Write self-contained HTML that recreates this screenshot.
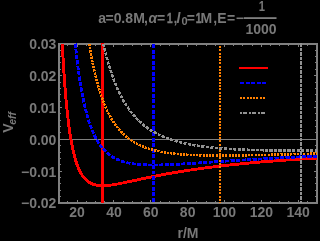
<!DOCTYPE html>
<html><head><meta charset="utf-8"><style>
html,body{margin:0;padding:0;background:#000;width:318px;height:241px;overflow:hidden}
svg{display:block;will-change:transform}
text{font-family:"Liberation Sans",sans-serif;font-size:14px;font-weight:bold;fill:#787878}
</style></head><body>
<svg width="318" height="241" viewBox="0 0 318 241">
<defs><clipPath id="cp"><rect x="58" y="43" width="260" height="160"/></clipPath></defs>
<rect width="318" height="241" fill="#000"/>
<text x="98.19" y="22.50">a</text>
<text x="105.62" y="22.50">=</text>
<text x="113.75" y="22.50">0</text>
<text x="121.15" y="22.50">.</text>
<text x="125.16" y="22.50">8</text>
<text x="133.16" y="22.50">M</text>
<text x="143.95" y="22.50">,</text>
<text x="148.41" y="22.50" font-style="italic">α</text>
<text x="156.92" y="22.50">=</text>
<text transform="translate(166.97,22.50) scale(0.72,1)" style="stroke:#787878;stroke-width:0.5">1</text>
<text x="173.55" y="22.50">,</text>
<text x="176.46" y="22.50" font-style="italic">l</text>
<text x="181.56" y="24.90" style="font-size:11px">0</text>
<text x="186.82" y="22.50">=</text>
<text transform="translate(195.87,22.50) scale(0.72,1)" style="stroke:#787878;stroke-width:0.5">1</text>
<text x="200.56" y="22.50">M</text>
<text x="213.35" y="22.50">,</text>
<text x="217.16" y="22.50">E</text>
<text x="226.92" y="22.50">=</text>
<text x="235.72" y="22.50">−</text>
<rect x="244" y="17.2" width="32.5" height="1.8" fill="#808080"/>
<text transform="translate(261.8,11.0) scale(0.8,1)" text-anchor="middle">1</text>
<text x="261" y="34.3" text-anchor="middle">1000</text>
<g fill="#808080" shape-rendering="crispEdges">
<rect x="58" y="43" width="260" height="2"/>
<rect x="58" y="202" width="260" height="2"/>
<rect x="58" y="43" width="2" height="161"/>
<rect x="316" y="43" width="2" height="161"/>
<rect x="58" y="201" width="1" height="1"/>
<rect x="58" y="45" width="1" height="1"/>
<rect x="67" y="201" width="1" height="1"/>
<rect x="67" y="45" width="1" height="1"/>
<rect x="77" y="200" width="1" height="2"/>
<rect x="77" y="45" width="1" height="2"/>
<rect x="86" y="201" width="1" height="1"/>
<rect x="86" y="45" width="1" height="1"/>
<rect x="95" y="201" width="1" height="1"/>
<rect x="95" y="45" width="1" height="1"/>
<rect x="104" y="201" width="1" height="1"/>
<rect x="104" y="45" width="1" height="1"/>
<rect x="113" y="200" width="1" height="2"/>
<rect x="113" y="45" width="1" height="2"/>
<rect x="123" y="201" width="1" height="1"/>
<rect x="123" y="45" width="1" height="1"/>
<rect x="132" y="201" width="1" height="1"/>
<rect x="132" y="45" width="1" height="1"/>
<rect x="141" y="201" width="1" height="1"/>
<rect x="141" y="45" width="1" height="1"/>
<rect x="150" y="200" width="1" height="2"/>
<rect x="150" y="45" width="1" height="2"/>
<rect x="160" y="201" width="1" height="1"/>
<rect x="160" y="45" width="1" height="1"/>
<rect x="169" y="201" width="1" height="1"/>
<rect x="169" y="45" width="1" height="1"/>
<rect x="178" y="201" width="1" height="1"/>
<rect x="178" y="45" width="1" height="1"/>
<rect x="187" y="200" width="1" height="2"/>
<rect x="187" y="45" width="1" height="2"/>
<rect x="196" y="201" width="1" height="1"/>
<rect x="196" y="45" width="1" height="1"/>
<rect x="206" y="201" width="1" height="1"/>
<rect x="206" y="45" width="1" height="1"/>
<rect x="215" y="201" width="1" height="1"/>
<rect x="215" y="45" width="1" height="1"/>
<rect x="224" y="200" width="1" height="2"/>
<rect x="224" y="45" width="1" height="2"/>
<rect x="233" y="201" width="1" height="1"/>
<rect x="233" y="45" width="1" height="1"/>
<rect x="242" y="201" width="1" height="1"/>
<rect x="242" y="45" width="1" height="1"/>
<rect x="252" y="201" width="1" height="1"/>
<rect x="252" y="45" width="1" height="1"/>
<rect x="261" y="200" width="1" height="2"/>
<rect x="261" y="45" width="1" height="2"/>
<rect x="270" y="201" width="1" height="1"/>
<rect x="270" y="45" width="1" height="1"/>
<rect x="279" y="201" width="1" height="1"/>
<rect x="279" y="45" width="1" height="1"/>
<rect x="288" y="201" width="1" height="1"/>
<rect x="288" y="45" width="1" height="1"/>
<rect x="298" y="200" width="1" height="2"/>
<rect x="298" y="45" width="1" height="2"/>
<rect x="307" y="201" width="1" height="1"/>
<rect x="307" y="45" width="1" height="1"/>
<rect x="316" y="201" width="1" height="1"/>
<rect x="316" y="45" width="1" height="1"/>
<rect x="60" y="202" width="2" height="1"/>
<rect x="314" y="202" width="2" height="1"/>
<rect x="60" y="196" width="1" height="1"/>
<rect x="315" y="196" width="1" height="1"/>
<rect x="60" y="190" width="1" height="1"/>
<rect x="315" y="190" width="1" height="1"/>
<rect x="60" y="183" width="1" height="1"/>
<rect x="315" y="183" width="1" height="1"/>
<rect x="60" y="177" width="1" height="1"/>
<rect x="315" y="177" width="1" height="1"/>
<rect x="60" y="171" width="2" height="1"/>
<rect x="314" y="171" width="2" height="1"/>
<rect x="60" y="164" width="1" height="1"/>
<rect x="315" y="164" width="1" height="1"/>
<rect x="60" y="158" width="1" height="1"/>
<rect x="315" y="158" width="1" height="1"/>
<rect x="60" y="152" width="1" height="1"/>
<rect x="315" y="152" width="1" height="1"/>
<rect x="60" y="145" width="1" height="1"/>
<rect x="315" y="145" width="1" height="1"/>
<rect x="60" y="139" width="2" height="1"/>
<rect x="314" y="139" width="2" height="1"/>
<rect x="60" y="132" width="1" height="1"/>
<rect x="315" y="132" width="1" height="1"/>
<rect x="60" y="126" width="1" height="1"/>
<rect x="315" y="126" width="1" height="1"/>
<rect x="60" y="120" width="1" height="1"/>
<rect x="315" y="120" width="1" height="1"/>
<rect x="60" y="113" width="1" height="1"/>
<rect x="315" y="113" width="1" height="1"/>
<rect x="60" y="107" width="2" height="1"/>
<rect x="314" y="107" width="2" height="1"/>
<rect x="60" y="101" width="1" height="1"/>
<rect x="315" y="101" width="1" height="1"/>
<rect x="60" y="94" width="1" height="1"/>
<rect x="315" y="94" width="1" height="1"/>
<rect x="60" y="88" width="1" height="1"/>
<rect x="315" y="88" width="1" height="1"/>
<rect x="60" y="82" width="1" height="1"/>
<rect x="315" y="82" width="1" height="1"/>
<rect x="60" y="75" width="2" height="1"/>
<rect x="314" y="75" width="2" height="1"/>
<rect x="60" y="69" width="1" height="1"/>
<rect x="315" y="69" width="1" height="1"/>
<rect x="60" y="62" width="1" height="1"/>
<rect x="315" y="62" width="1" height="1"/>
<rect x="60" y="56" width="1" height="1"/>
<rect x="315" y="56" width="1" height="1"/>
<rect x="60" y="50" width="1" height="1"/>
<rect x="315" y="50" width="1" height="1"/>
<rect x="60" y="43" width="2" height="1"/>
<rect x="314" y="43" width="2" height="1"/>
</g>
<rect x="60" y="139" width="256" height="1" fill="#808080" shape-rendering="crispEdges"/>
<path d="M62.26,43.80 L62.26,43.87 L62.27,44.04 L62.28,44.29 L62.30,44.62 L62.32,45.03 L62.35,45.50 L62.38,46.04 L62.41,46.64 L62.44,47.31 L62.48,48.03 L62.52,48.80 L62.57,49.63 L62.61,50.51 L62.67,51.44 L62.72,52.41 L62.78,53.43 L62.84,54.49 L62.90,55.59 L62.96,56.74 L63.03,57.92 L63.10,59.13 L63.18,60.38 L63.25,61.66 L63.33,62.97 L63.42,64.31 L63.50,65.67 L63.59,67.06 L63.68,68.47 L63.77,69.90 L63.87,71.36 L63.96,72.83 L64.06,74.32 L64.17,75.82 L64.27,77.34 L64.38,78.87 L64.49,80.41 L64.60,81.96 L64.72,83.52 L64.84,85.08 L64.96,86.65 L65.08,88.22 L65.20,89.80 L65.33,91.38 L65.46,92.96 L65.59,94.54 L65.73,96.12 L65.86,97.69 L66.00,99.26 L66.14,100.83 L66.29,102.39 L66.44,103.95 L66.58,105.49 L66.73,107.03 L66.89,108.57 L67.04,110.09 L67.20,111.60 L67.36,113.10 L67.52,114.59 L67.69,116.07 L67.85,117.53 L68.02,118.98 L68.19,120.42 L68.37,121.84 L68.54,123.25 L68.72,124.65 L68.90,126.03 L69.08,127.39 L69.27,128.73 L69.46,130.06 L69.64,131.38 L69.84,132.67 L70.03,133.95 L70.22,135.21 L70.42,136.46 L70.62,137.68 L70.82,138.89 L71.03,140.08 L71.23,141.25 L71.44,142.41 L71.65,143.54 L71.86,144.66 L72.08,145.76 L72.29,146.84 L72.51,147.90 L72.73,148.94 L72.96,149.96 L73.18,150.97 L73.41,151.96 L73.64,152.93 L73.87,153.88 L74.10,154.81 L74.34,155.72 L74.58,156.62 L74.81,157.50 L75.06,158.36 L75.30,159.20 L75.55,160.03 L75.79,160.84 L76.04,161.63 L76.29,162.40 L76.55,163.16 L76.80,163.90 L77.06,164.62 L77.32,165.33 L77.58,166.02 L77.85,166.70 L78.11,167.36 L78.38,168.00 L78.65,168.63 L78.92,169.24 L79.19,169.84 L79.47,170.43 L79.75,170.99 L80.03,171.55 L80.31,172.09 L80.59,172.61 L80.88,173.13 L81.17,173.62 L81.45,174.11 L81.75,174.58 L82.04,175.04 L82.33,175.49 L82.63,175.92 L82.93,176.34 L83.23,176.75 L83.53,177.15 L83.84,177.53 L84.15,177.90 L84.46,178.26 L84.77,178.62 L85.08,178.95 L85.39,179.28 L85.71,179.60 L86.03,179.91 L86.35,180.21 L86.67,180.49 L86.99,180.77 L87.32,181.04 L87.65,181.30 L87.98,181.55 L88.31,181.79 L88.64,182.02 L88.98,182.24 L89.32,182.45 L89.65,182.66 L90.00,182.86 L90.34,183.04 L90.68,183.23 L91.03,183.40 L91.38,183.56 L91.73,183.72 L92.08,183.87 L92.44,184.02 L92.79,184.15 L93.15,184.28 L93.51,184.41 L93.87,184.52 L94.23,184.63 L94.60,184.74 L94.97,184.83 L95.34,184.93 L95.71,185.01 L96.08,185.09 L96.45,185.17 L96.83,185.23 L97.21,185.30 L97.59,185.36 L97.97,185.41 L98.35,185.46 L98.74,185.50 L99.12,185.54 L99.51,185.57 L99.90,185.60 L100.30,185.63 L100.69,185.65 L101.09,185.67 L101.49,185.68 L101.89,185.69 L102.29,185.69 L102.69,185.69 L103.10,185.69 L103.50,185.68 L103.91,185.67 L104.32,185.66 L104.73,185.64 L105.15,185.62 L105.56,185.59 L105.98,185.57 L106.40,185.54 L106.82,185.50 L107.25,185.47 L107.67,185.43 L108.10,185.39 L108.53,185.34 L108.96,185.30 L109.39,185.25 L109.82,185.20 L110.26,185.14 L110.69,185.09 L111.13,185.03 L111.57,184.97 L112.02,184.90 L112.46,184.84 L112.91,184.77 L113.36,184.70 L113.80,184.63 L114.26,184.56 L114.71,184.48 L115.16,184.41 L115.62,184.33 L116.08,184.25 L116.54,184.17 L117.00,184.09 L117.46,184.00 L117.93,183.92 L118.40,183.83 L118.86,183.74 L119.33,183.65 L119.81,183.56 L120.28,183.47 L120.76,183.37 L121.23,183.28 L121.71,183.18 L122.19,183.09 L122.68,182.99 L123.16,182.89 L123.65,182.79 L124.13,182.69 L124.62,182.59 L125.11,182.48 L125.61,182.38 L126.10,182.28 L126.60,182.17 L127.10,182.07 L127.60,181.96 L128.10,181.85 L128.60,181.74 L129.10,181.64 L129.61,181.53 L130.12,181.42 L130.63,181.31 L131.14,181.20 L131.65,181.08 L132.17,180.97 L132.68,180.86 L133.20,180.75 L133.72,180.64 L134.24,180.52 L134.77,180.41 L135.29,180.29 L135.82,180.18 L136.35,180.07 L136.88,179.95 L137.41,179.84 L137.94,179.72 L138.48,179.60 L139.02,179.49 L139.55,179.37 L140.09,179.26 L140.64,179.14 L141.18,179.02 L141.72,178.91 L142.27,178.79 L142.82,178.67 L143.37,178.56 L143.92,178.44 L144.47,178.32 L145.03,178.20 L145.59,178.09 L146.14,177.97 L146.70,177.85 L147.27,177.74 L147.83,177.62 L148.39,177.50 L148.96,177.38 L149.53,177.27 L150.10,177.15 L150.67,177.03 L151.24,176.92 L151.82,176.80 L152.40,176.68 L152.97,176.57 L153.55,176.45 L154.14,176.33 L154.72,176.22 L155.30,176.10 L155.89,175.98 L156.48,175.87 L157.07,175.75 L157.66,175.64 L158.25,175.52 L158.85,175.41 L159.44,175.29 L160.04,175.18 L160.64,175.06 L161.24,174.95 L161.84,174.83 L162.45,174.72 L163.05,174.61 L163.66,174.49 L164.27,174.38 L164.88,174.27 L165.49,174.15 L166.11,174.04 L166.72,173.93 L167.34,173.82 L167.96,173.70 L168.58,173.59 L169.20,173.48 L169.83,173.37 L170.45,173.26 L171.08,173.15 L171.71,173.04 L172.34,172.93 L172.97,172.82 L173.60,172.71 L174.24,172.60 L174.88,172.49 L175.51,172.38 L176.15,172.28 L176.80,172.17 L177.44,172.06 L178.08,171.95 L178.73,171.85 L179.38,171.74 L180.03,171.63 L180.68,171.53 L181.33,171.42 L181.98,171.32 L182.64,171.21 L183.30,171.11 L183.96,171.00 L184.62,170.90 L185.28,170.80 L185.94,170.69 L186.61,170.59 L187.28,170.49 L187.94,170.39 L188.61,170.28 L189.29,170.18 L189.96,170.08 L190.63,169.98 L191.31,169.88 L191.99,169.78 L192.67,169.68 L193.35,169.58 L194.03,169.48 L194.72,169.38 L195.40,169.28 L196.09,169.18 L196.78,169.09 L197.47,168.99 L198.16,168.89 L198.86,168.80 L199.55,168.70 L200.25,168.60 L200.95,168.51 L201.65,168.41 L202.35,168.32 L203.05,168.22 L203.76,168.13 L204.46,168.03 L205.17,167.94 L205.88,167.85 L206.59,167.75 L207.30,167.66 L208.02,167.57 L208.73,167.48 L209.45,167.39 L210.17,167.29 L210.89,167.20 L211.61,167.11 L212.33,167.02 L213.06,166.93 L213.79,166.84 L214.51,166.75 L215.24,166.67 L215.98,166.58 L216.71,166.49 L217.44,166.40 L218.18,166.31 L218.92,166.23 L219.65,166.14 L220.40,166.05 L221.14,165.97 L221.88,165.88 L222.63,165.80 L223.37,165.71 L224.12,165.63 L224.87,165.54 L225.62,165.46 L226.37,165.37 L227.13,165.29 L227.89,165.21 L228.64,165.12 L229.40,165.04 L230.16,164.96 L230.92,164.88 L231.69,164.80 L232.45,164.72 L233.22,164.63 L233.99,164.55 L234.76,164.47 L235.53,164.39 L236.30,164.31 L237.08,164.24 L237.85,164.16 L238.63,164.08 L239.41,164.00 L240.19,163.92 L240.97,163.84 L241.75,163.77 L242.54,163.69 L243.32,163.61 L244.11,163.54 L244.90,163.46 L245.69,163.38 L246.49,163.31 L247.28,163.23 L248.08,163.16 L248.87,163.08 L249.67,163.01 L250.47,162.94 L251.27,162.86 L252.08,162.79 L252.88,162.72 L253.69,162.64 L254.49,162.57 L255.30,162.50 L256.11,162.43 L256.93,162.36 L257.74,162.28 L258.56,162.21 L259.37,162.14 L260.19,162.07 L261.01,162.00 L261.83,161.93 L262.66,161.86 L263.48,161.79 L264.31,161.72 L265.13,161.66 L265.96,161.59 L266.79,161.52 L267.62,161.45 L268.46,161.38 L269.29,161.32 L270.13,161.25 L270.97,161.18 L271.80,161.12 L272.65,161.05 L273.49,160.98 L274.33,160.92 L275.18,160.85 L276.02,160.79 L276.87,160.72 L277.72,160.66 L278.57,160.59 L279.43,160.53 L280.28,160.47 L281.14,160.40 L281.99,160.34 L282.85,160.28 L283.71,160.21 L284.57,160.15 L285.44,160.09 L286.30,160.03 L287.17,159.96 L288.04,159.90 L288.90,159.84 L289.78,159.78 L290.65,159.72 L291.52,159.66 L292.40,159.60 L293.27,159.54 L294.15,159.48 L295.03,159.42 L295.91,159.36 L296.79,159.30 L297.68,159.24 L298.56,159.18 L299.45,159.13 L300.34,159.07 L301.23,159.01 L302.12,158.95 L303.01,158.89 L303.91,158.84 L304.80,158.78 L305.70,158.72 L306.60,158.67 L307.50,158.61 L308.40,158.55 L309.30,158.50 L310.21,158.44 L311.11,158.39 L312.02,158.33 L312.93,158.28 L313.84,158.22 L314.75,158.17 L315.67,158.11 L316.58,158.06" fill="none" stroke="#ff0000" stroke-width="2.9"  clip-path="url(#cp)" shape-rendering="crispEdges"/>
<line x1="102.5" y1="43" x2="102.5" y2="203" stroke="#ff0000" stroke-width="3"  shape-rendering="crispEdges"/>
<path d="M75.30,43.80 L75.31,43.83 L75.32,43.91 L75.33,44.04 L75.35,44.20 L75.37,44.39 L75.39,44.62 L75.42,44.88 L75.45,45.18 L75.48,45.50 L75.52,45.85 L75.56,46.23 L75.60,46.64 L75.64,47.07 L75.69,47.53 L75.74,48.01 L75.80,48.52 L75.85,49.05 L75.91,49.60 L75.97,50.17 L76.04,50.77 L76.11,51.38 L76.18,52.02 L76.25,52.67 L76.33,53.35 L76.40,54.04 L76.48,54.75 L76.57,55.47 L76.65,56.21 L76.74,56.97 L76.83,57.74 L76.92,58.52 L77.02,59.32 L77.11,60.13 L77.21,60.96 L77.32,61.79 L77.42,62.64 L77.53,63.50 L77.64,64.36 L77.75,65.24 L77.86,66.13 L77.98,67.02 L78.10,67.92 L78.22,68.83 L78.34,69.75 L78.47,70.67 L78.60,71.60 L78.73,72.54 L78.86,73.48 L78.99,74.42 L79.13,75.37 L79.27,76.32 L79.41,77.28 L79.55,78.24 L79.70,79.20 L79.84,80.16 L79.99,81.12 L80.15,82.09 L80.30,83.05 L80.46,84.02 L80.61,84.98 L80.77,85.95 L80.94,86.91 L81.10,87.88 L81.27,88.84 L81.44,89.80 L81.61,90.76 L81.78,91.71 L81.96,92.67 L82.13,93.62 L82.31,94.57 L82.49,95.51 L82.68,96.45 L82.86,97.39 L83.05,98.32 L83.24,99.25 L83.43,100.17 L83.62,101.09 L83.82,102.00 L84.02,102.91 L84.22,103.81 L84.42,104.71 L84.62,105.60 L84.83,106.48 L85.03,107.36 L85.24,108.23 L85.45,109.10 L85.67,109.96 L85.88,110.81 L86.10,111.66 L86.32,112.50 L86.54,113.33 L86.76,114.15 L86.99,114.97 L87.22,115.78 L87.45,116.58 L87.68,117.38 L87.91,118.17 L88.15,118.95 L88.38,119.72 L88.62,120.48 L88.86,121.24 L89.10,121.99 L89.35,122.73 L89.59,123.47 L89.84,124.19 L90.09,124.91 L90.35,125.62 L90.60,126.32 L90.85,127.01 L91.11,127.70 L91.37,128.37 L91.63,129.04 L91.90,129.70 L92.16,130.36 L92.43,131.00 L92.70,131.64 L92.97,132.27 L93.24,132.89 L93.52,133.50 L93.79,134.11 L94.07,134.70 L94.35,135.29 L94.63,135.87 L94.92,136.45 L95.20,137.01 L95.49,137.57 L95.78,138.12 L96.07,138.66 L96.36,139.19 L96.66,139.72 L96.95,140.24 L97.25,140.75 L97.55,141.26 L97.86,141.75 L98.16,142.24 L98.46,142.72 L98.77,143.20 L99.08,143.67 L99.39,144.13 L99.71,144.58 L100.02,145.03 L100.34,145.47 L100.65,145.90 L100.97,146.32 L101.30,146.74 L101.62,147.15 L101.95,147.56 L102.27,147.96 L102.60,148.35 L102.93,148.73 L103.26,149.11 L103.60,149.49 L103.93,149.85 L104.27,150.21 L104.61,150.57 L104.95,150.91 L105.30,151.26 L105.64,151.59 L105.99,151.92 L106.33,152.25 L106.68,152.56 L107.04,152.88 L107.39,153.18 L107.75,153.48 L108.10,153.78 L108.46,154.07 L108.82,154.36 L109.18,154.64 L109.55,154.91 L109.91,155.18 L110.28,155.44 L110.65,155.70 L111.02,155.96 L111.39,156.20 L111.77,156.45 L112.14,156.69 L112.52,156.92 L112.90,157.15 L113.28,157.38 L113.66,157.60 L114.05,157.81 L114.43,158.03 L114.82,158.23 L115.21,158.44 L115.60,158.64 L116.00,158.83 L116.39,159.02 L116.79,159.21 L117.18,159.39 L117.58,159.57 L117.99,159.74 L118.39,159.91 L118.79,160.08 L119.20,160.24 L119.61,160.40 L120.02,160.56 L120.43,160.71 L120.84,160.86 L121.26,161.00 L121.67,161.14 L122.09,161.28 L122.51,161.41 L122.93,161.55 L123.36,161.67 L123.78,161.80 L124.21,161.92 L124.64,162.04 L125.06,162.16 L125.50,162.27 L125.93,162.38 L126.36,162.48 L126.80,162.59 L127.24,162.69 L127.68,162.79 L128.12,162.88 L128.56,162.98 L129.01,163.07 L129.45,163.15 L129.90,163.24 L130.35,163.32 L130.80,163.40 L131.26,163.48 L131.71,163.55 L132.17,163.63 L132.62,163.70 L133.08,163.77 L133.54,163.83 L134.01,163.90 L134.47,163.96 L134.94,164.02 L135.40,164.07 L135.87,164.13 L136.34,164.18 L136.82,164.23 L137.29,164.28 L137.77,164.33 L138.24,164.37 L138.72,164.42 L139.20,164.46 L139.68,164.50 L140.17,164.54 L140.65,164.57 L141.14,164.61 L141.63,164.64 L142.12,164.67 L142.61,164.70 L143.10,164.73 L143.60,164.76 L144.09,164.78 L144.59,164.80 L145.09,164.83 L145.59,164.85 L146.10,164.86 L146.60,164.88 L147.11,164.90 L147.61,164.91 L148.12,164.93 L148.63,164.94 L149.15,164.95 L149.66,164.96 L150.18,164.97 L150.69,164.97 L151.21,164.98 L151.73,164.98 L152.25,164.99 L152.78,164.99 L153.30,164.99 L153.83,164.99 L154.36,164.99 L154.89,164.99 L155.42,164.98 L155.95,164.98 L156.49,164.97 L157.02,164.97 L157.56,164.96 L158.10,164.95 L158.64,164.94 L159.18,164.93 L159.73,164.92 L160.27,164.91 L160.82,164.90 L161.37,164.89 L161.92,164.87 L162.47,164.86 L163.02,164.84 L163.58,164.82 L164.13,164.81 L164.69,164.79 L165.25,164.77 L165.81,164.75 L166.37,164.73 L166.94,164.71 L167.50,164.69 L168.07,164.66 L168.64,164.64 L169.21,164.62 L169.78,164.59 L170.36,164.57 L170.93,164.54 L171.51,164.52 L172.08,164.49 L172.66,164.46 L173.25,164.44 L173.83,164.41 L174.41,164.38 L175.00,164.35 L175.59,164.32 L176.17,164.29 L176.76,164.26 L177.36,164.23 L177.95,164.20 L178.54,164.16 L179.14,164.13 L179.74,164.10 L180.34,164.07 L180.94,164.03 L181.54,164.00 L182.15,163.96 L182.75,163.93 L183.36,163.89 L183.97,163.86 L184.58,163.82 L185.19,163.78 L185.80,163.75 L186.42,163.71 L187.03,163.67 L187.65,163.63 L188.27,163.60 L188.89,163.56 L189.51,163.52 L190.14,163.48 L190.76,163.44 L191.39,163.40 L192.02,163.36 L192.65,163.32 L193.28,163.28 L193.91,163.24 L194.54,163.20 L195.18,163.16 L195.82,163.12 L196.46,163.08 L197.10,163.04 L197.74,162.99 L198.38,162.95 L199.03,162.91 L199.67,162.87 L200.32,162.83 L200.97,162.78 L201.62,162.74 L202.27,162.70 L202.93,162.65 L203.58,162.61 L204.24,162.57 L204.90,162.52 L205.55,162.48 L206.22,162.44 L206.88,162.39 L207.54,162.35 L208.21,162.30 L208.88,162.26 L209.54,162.21 L210.21,162.17 L210.89,162.12 L211.56,162.08 L212.23,162.04 L212.91,161.99 L213.59,161.95 L214.27,161.90 L214.95,161.85 L215.63,161.81 L216.31,161.76 L217.00,161.72 L217.68,161.67 L218.37,161.63 L219.06,161.58 L219.75,161.54 L220.44,161.49 L221.14,161.44 L221.83,161.40 L222.53,161.35 L223.23,161.31 L223.93,161.26 L224.63,161.22 L225.33,161.17 L226.03,161.12 L226.74,161.08 L227.45,161.03 L228.15,160.99 L228.86,160.94 L229.58,160.89 L230.29,160.85 L231.00,160.80 L231.72,160.75 L232.44,160.71 L233.15,160.66 L233.87,160.62 L234.60,160.57 L235.32,160.52 L236.04,160.48 L236.77,160.43 L237.50,160.39 L238.22,160.34 L238.95,160.29 L239.69,160.25 L240.42,160.20 L241.15,160.16 L241.89,160.11 L242.63,160.06 L243.37,160.02 L244.11,159.97 L244.85,159.93 L245.59,159.88 L246.34,159.83 L247.08,159.79 L247.83,159.74 L248.58,159.70 L249.33,159.65 L250.08,159.61 L250.84,159.56 L251.59,159.52 L252.35,159.47 L253.10,159.43 L253.86,159.38 L254.62,159.33 L255.39,159.29 L256.15,159.24 L256.91,159.20 L257.68,159.15 L258.45,159.11 L259.22,159.06 L259.99,159.02 L260.76,158.97 L261.53,158.93 L262.31,158.89 L263.08,158.84 L263.86,158.80 L264.64,158.75 L265.42,158.71 L266.20,158.66 L266.99,158.62 L267.77,158.57 L268.56,158.53 L269.35,158.49 L270.13,158.44 L270.93,158.40 L271.72,158.35 L272.51,158.31 L273.31,158.27 L274.10,158.22 L274.90,158.18 L275.70,158.14 L276.50,158.09 L277.30,158.05 L278.10,158.01 L278.91,157.96 L279.72,157.92 L280.52,157.88 L281.33,157.84 L282.14,157.79 L282.95,157.75 L283.77,157.71 L284.58,157.66 L285.40,157.62 L286.22,157.58 L287.03,157.54 L287.85,157.50 L288.68,157.45 L289.50,157.41 L290.32,157.37 L291.15,157.33 L291.98,157.29 L292.81,157.24 L293.64,157.20 L294.47,157.16 L295.30,157.12 L296.14,157.08 L296.97,157.04 L297.81,157.00 L298.65,156.96 L299.49,156.91 L300.33,156.87 L301.17,156.83 L302.02,156.79 L302.86,156.75 L303.71,156.71 L304.56,156.67 L305.41,156.63 L306.26,156.59 L307.11,156.55 L307.96,156.51 L308.82,156.47 L309.68,156.43 L310.53,156.39 L311.39,156.35 L312.25,156.31 L313.12,156.27 L313.98,156.23 L314.85,156.19 L315.71,156.16 L316.58,156.12" fill="none" stroke="#0000ff" stroke-width="2.8" stroke-dasharray="4.2 1.3" clip-path="url(#cp)" shape-rendering="crispEdges"/>
<line x1="153.5" y1="44" x2="153.5" y2="203" stroke="#0000ff" stroke-width="3" stroke-dasharray="4 1.5" shape-rendering="crispEdges"/>
<path d="M89.18,43.80 L89.19,43.82 L89.19,43.87 L89.21,43.94 L89.22,44.04 L89.24,44.15 L89.26,44.29 L89.29,44.45 L89.32,44.62 L89.35,44.81 L89.38,45.02 L89.42,45.25 L89.46,45.49 L89.50,45.75 L89.55,46.03 L89.60,46.32 L89.65,46.62 L89.70,46.94 L89.76,47.28 L89.82,47.62 L89.88,47.99 L89.94,48.36 L90.01,48.75 L90.07,49.15 L90.15,49.56 L90.22,49.98 L90.29,50.42 L90.37,50.87 L90.45,51.33 L90.54,51.79 L90.62,52.27 L90.71,52.76 L90.80,53.26 L90.89,53.77 L90.98,54.29 L91.08,54.82 L91.18,55.35 L91.28,55.90 L91.38,56.45 L91.49,57.01 L91.60,57.58 L91.71,58.16 L91.82,58.74 L91.93,59.33 L92.05,59.92 L92.16,60.53 L92.29,61.14 L92.41,61.75 L92.53,62.37 L92.66,63.00 L92.79,63.63 L92.92,64.26 L93.05,64.90 L93.19,65.55 L93.32,66.20 L93.46,66.85 L93.60,67.51 L93.75,68.17 L93.89,68.83 L94.04,69.50 L94.19,70.16 L94.34,70.84 L94.49,71.51 L94.65,72.19 L94.80,72.87 L94.96,73.55 L95.12,74.23 L95.29,74.91 L95.45,75.60 L95.62,76.28 L95.79,76.97 L95.96,77.66 L96.13,78.34 L96.31,79.03 L96.48,79.72 L96.66,80.41 L96.84,81.10 L97.02,81.79 L97.21,82.47 L97.39,83.16 L97.58,83.85 L97.77,84.53 L97.96,85.22 L98.16,85.90 L98.35,86.58 L98.55,87.27 L98.75,87.94 L98.95,88.62 L99.15,89.30 L99.36,89.97 L99.57,90.64 L99.77,91.31 L99.98,91.98 L100.20,92.65 L100.41,93.31 L100.63,93.97 L100.84,94.63 L101.06,95.28 L101.29,95.93 L101.51,96.58 L101.73,97.23 L101.96,97.87 L102.19,98.51 L102.42,99.15 L102.65,99.78 L102.89,100.41 L103.12,101.04 L103.36,101.66 L103.60,102.28 L103.84,102.90 L104.08,103.51 L104.33,104.12 L104.57,104.72 L104.82,105.32 L105.07,105.92 L105.32,106.51 L105.58,107.10 L105.83,107.69 L106.09,108.27 L106.35,108.85 L106.61,109.42 L106.87,109.99 L107.13,110.55 L107.40,111.11 L107.67,111.67 L107.94,112.22 L108.21,112.77 L108.48,113.31 L108.75,113.85 L109.03,114.38 L109.31,114.91 L109.59,115.44 L109.87,115.96 L110.15,116.48 L110.44,116.99 L110.72,117.50 L111.01,118.00 L111.30,118.50 L111.59,119.00 L111.89,119.49 L112.18,119.97 L112.48,120.45 L112.78,120.93 L113.08,121.40 L113.38,121.87 L113.68,122.34 L113.98,122.79 L114.29,123.25 L114.60,123.70 L114.91,124.15 L115.22,124.59 L115.53,125.02 L115.85,125.46 L116.17,125.89 L116.48,126.31 L116.80,126.73 L117.13,127.15 L117.45,127.56 L117.77,127.96 L118.10,128.37 L118.43,128.76 L118.76,129.16 L119.09,129.55 L119.42,129.93 L119.76,130.31 L120.09,130.69 L120.43,131.07 L120.77,131.43 L121.11,131.80 L121.46,132.16 L121.80,132.52 L122.15,132.87 L122.49,133.22 L122.84,133.56 L123.20,133.90 L123.55,134.24 L123.90,134.57 L124.26,134.90 L124.62,135.23 L124.97,135.55 L125.34,135.87 L125.70,136.18 L126.06,136.49 L126.43,136.80 L126.79,137.10 L127.16,137.40 L127.53,137.69 L127.91,137.98 L128.28,138.27 L128.65,138.56 L129.03,138.84 L129.41,139.12 L129.79,139.39 L130.17,139.66 L130.55,139.93 L130.94,140.19 L131.32,140.45 L131.71,140.71 L132.10,140.96 L132.49,141.21 L132.88,141.46 L133.28,141.70 L133.67,141.94 L134.07,142.18 L134.47,142.42 L134.87,142.65 L135.27,142.88 L135.68,143.10 L136.08,143.32 L136.49,143.54 L136.90,143.76 L137.31,143.97 L137.72,144.18 L138.13,144.39 L138.54,144.59 L138.96,144.80 L139.38,144.99 L139.80,145.19 L140.22,145.38 L140.64,145.58 L141.06,145.76 L141.49,145.95 L141.92,146.13 L142.34,146.31 L142.77,146.49 L143.21,146.66 L143.64,146.84 L144.07,147.01 L144.51,147.17 L144.95,147.34 L145.39,147.50 L145.83,147.66 L146.27,147.82 L146.71,147.98 L147.16,148.13 L147.60,148.28 L148.05,148.43 L148.50,148.58 L148.95,148.72 L149.41,148.86 L149.86,149.00 L150.32,149.14 L150.77,149.27 L151.23,149.41 L151.69,149.54 L152.15,149.67 L152.62,149.80 L153.08,149.92 L153.55,150.04 L154.02,150.17 L154.49,150.29 L154.96,150.40 L155.43,150.52 L155.90,150.63 L156.38,150.74 L156.86,150.85 L157.33,150.96 L157.81,151.07 L158.30,151.17 L158.78,151.28 L159.26,151.38 L159.75,151.48 L160.24,151.57 L160.73,151.67 L161.22,151.76 L161.71,151.86 L162.20,151.95 L162.70,152.04 L163.19,152.13 L163.69,152.21 L164.19,152.30 L164.69,152.38 L165.19,152.46 L165.70,152.54 L166.20,152.62 L166.71,152.70 L167.22,152.78 L167.73,152.85 L168.24,152.92 L168.75,153.00 L169.26,153.07 L169.78,153.14 L170.30,153.20 L170.81,153.27 L171.33,153.34 L171.86,153.40 L172.38,153.46 L172.90,153.52 L173.43,153.58 L173.96,153.64 L174.48,153.70 L175.01,153.76 L175.55,153.81 L176.08,153.87 L176.61,153.92 L177.15,153.97 L177.69,154.02 L178.23,154.07 L178.77,154.12 L179.31,154.17 L179.85,154.22 L180.40,154.26 L180.94,154.31 L181.49,154.35 L182.04,154.39 L182.59,154.44 L183.14,154.48 L183.70,154.52 L184.25,154.56 L184.81,154.59 L185.36,154.63 L185.92,154.67 L186.48,154.70 L187.05,154.74 L187.61,154.77 L188.17,154.80 L188.74,154.83 L189.31,154.86 L189.88,154.89 L190.45,154.92 L191.02,154.95 L191.59,154.98 L192.17,155.01 L192.75,155.03 L193.32,155.06 L193.90,155.08 L194.48,155.11 L195.07,155.13 L195.65,155.15 L196.23,155.17 L196.82,155.19 L197.41,155.21 L198.00,155.23 L198.59,155.25 L199.18,155.27 L199.77,155.29 L200.37,155.30 L200.97,155.32 L201.56,155.34 L202.16,155.35 L202.76,155.36 L203.37,155.38 L203.97,155.39 L204.57,155.40 L205.18,155.42 L205.79,155.43 L206.40,155.44 L207.01,155.45 L207.62,155.46 L208.23,155.47 L208.85,155.48 L209.46,155.48 L210.08,155.49 L210.70,155.50 L211.32,155.50 L211.94,155.51 L212.56,155.52 L213.19,155.52 L213.81,155.53 L214.44,155.53 L215.07,155.53 L215.70,155.54 L216.33,155.54 L216.97,155.54 L217.60,155.54 L218.24,155.54 L218.87,155.55 L219.51,155.55 L220.15,155.55 L220.79,155.55 L221.44,155.55 L222.08,155.54 L222.72,155.54 L223.37,155.54 L224.02,155.54 L224.67,155.54 L225.32,155.53 L225.97,155.53 L226.63,155.53 L227.28,155.52 L227.94,155.52 L228.60,155.51 L229.26,155.51 L229.92,155.50 L230.58,155.50 L231.24,155.49 L231.91,155.49 L232.57,155.48 L233.24,155.47 L233.91,155.46 L234.58,155.46 L235.25,155.45 L235.92,155.44 L236.60,155.43 L237.28,155.42 L237.95,155.41 L238.63,155.41 L239.31,155.40 L239.99,155.39 L240.68,155.38 L241.36,155.37 L242.04,155.36 L242.73,155.34 L243.42,155.33 L244.11,155.32 L244.80,155.31 L245.49,155.30 L246.19,155.29 L246.88,155.28 L247.58,155.26 L248.28,155.25 L248.97,155.24 L249.68,155.22 L250.38,155.21 L251.08,155.20 L251.78,155.18 L252.49,155.17 L253.20,155.16 L253.91,155.14 L254.62,155.13 L255.33,155.11 L256.04,155.10 L256.76,155.08 L257.47,155.07 L258.19,155.05 L258.91,155.04 L259.62,155.02 L260.35,155.01 L261.07,154.99 L261.79,154.98 L262.52,154.96 L263.24,154.94 L263.97,154.93 L264.70,154.91 L265.43,154.89 L266.16,154.88 L266.89,154.86 L267.63,154.84 L268.36,154.82 L269.10,154.81 L269.84,154.79 L270.58,154.77 L271.32,154.75 L272.06,154.74 L272.81,154.72 L273.55,154.70 L274.30,154.68 L275.05,154.66 L275.79,154.65 L276.55,154.63 L277.30,154.61 L278.05,154.59 L278.80,154.57 L279.56,154.55 L280.32,154.53 L281.08,154.51 L281.84,154.49 L282.60,154.47 L283.36,154.45 L284.12,154.44 L284.89,154.42 L285.65,154.40 L286.42,154.38 L287.19,154.36 L287.96,154.34 L288.73,154.32 L289.51,154.30 L290.28,154.28 L291.06,154.26 L291.83,154.24 L292.61,154.22 L293.39,154.19 L294.17,154.17 L294.96,154.15 L295.74,154.13 L296.53,154.11 L297.31,154.09 L298.10,154.07 L298.89,154.05 L299.68,154.03 L300.47,154.01 L301.26,153.99 L302.06,153.97 L302.85,153.94 L303.65,153.92 L304.45,153.90 L305.25,153.88 L306.05,153.86 L306.85,153.84 L307.65,153.82 L308.46,153.80 L309.27,153.77 L310.07,153.75 L310.88,153.73 L311.69,153.71 L312.50,153.69 L313.32,153.67 L314.13,153.65 L314.95,153.62 L315.76,153.60 L316.58,153.58" fill="none" stroke="#ff8000" stroke-width="2.5" stroke-dasharray="2.2 1.05" clip-path="url(#cp)" shape-rendering="crispEdges"/>
<line x1="220.0" y1="46" x2="220.0" y2="203" stroke="#ff8000" stroke-width="2" stroke-dasharray="2.2 1.05" shape-rendering="crispEdges"/>
<path d="M103.36,43.80 L103.36,43.81 L103.37,43.85 L103.38,43.89 L103.39,43.96 L103.41,44.04 L103.43,44.13 L103.45,44.23 L103.48,44.35 L103.51,44.48 L103.54,44.62 L103.58,44.77 L103.61,44.94 L103.65,45.11 L103.70,45.29 L103.74,45.49 L103.79,45.70 L103.84,45.91 L103.89,46.14 L103.95,46.37 L104.00,46.62 L104.06,46.87 L104.13,47.14 L104.19,47.41 L104.26,47.69 L104.33,47.98 L104.40,48.27 L104.47,48.58 L104.55,48.89 L104.62,49.22 L104.70,49.54 L104.78,49.88 L104.87,50.22 L104.95,50.58 L105.04,50.93 L105.13,51.30 L105.23,51.67 L105.32,52.05 L105.42,52.43 L105.52,52.83 L105.62,53.22 L105.72,53.63 L105.82,54.03 L105.93,54.45 L106.04,54.87 L106.15,55.29 L106.26,55.72 L106.38,56.16 L106.50,56.60 L106.61,57.05 L106.73,57.50 L106.86,57.95 L106.98,58.41 L107.11,58.87 L107.24,59.34 L107.37,59.81 L107.50,60.29 L107.63,60.76 L107.77,61.25 L107.91,61.73 L108.05,62.22 L108.19,62.71 L108.33,63.21 L108.48,63.71 L108.63,64.21 L108.77,64.71 L108.93,65.22 L109.08,65.73 L109.23,66.24 L109.39,66.75 L109.55,67.26 L109.71,67.78 L109.87,68.30 L110.03,68.82 L110.20,69.34 L110.37,69.87 L110.54,70.39 L110.71,70.92 L110.88,71.45 L111.05,71.98 L111.23,72.51 L111.41,73.04 L111.59,73.57 L111.77,74.10 L111.95,74.63 L112.14,75.17 L112.33,75.70 L112.51,76.23 L112.70,76.77 L112.90,77.30 L113.09,77.84 L113.29,78.37 L113.48,78.90 L113.68,79.44 L113.88,79.97 L114.09,80.51 L114.29,81.04 L114.50,81.57 L114.70,82.10 L114.91,82.63 L115.12,83.16 L115.34,83.69 L115.55,84.22 L115.77,84.75 L115.98,85.28 L116.20,85.80 L116.42,86.33 L116.65,86.85 L116.87,87.37 L117.10,87.89 L117.33,88.41 L117.55,88.93 L117.79,89.45 L118.02,89.96 L118.25,90.48 L118.49,90.99 L118.73,91.50 L118.97,92.01 L119.21,92.51 L119.45,93.02 L119.69,93.52 L119.94,94.02 L120.19,94.52 L120.44,95.02 L120.69,95.51 L120.94,96.00 L121.19,96.50 L121.45,96.98 L121.71,97.47 L121.97,97.95 L122.23,98.44 L122.49,98.92 L122.75,99.39 L123.02,99.87 L123.28,100.34 L123.55,100.81 L123.82,101.28 L124.09,101.74 L124.37,102.21 L124.64,102.67 L124.92,103.12 L125.20,103.58 L125.48,104.03 L125.76,104.48 L126.04,104.93 L126.32,105.37 L126.61,105.82 L126.90,106.25 L127.19,106.69 L127.48,107.13 L127.77,107.56 L128.06,107.99 L128.36,108.41 L128.66,108.84 L128.95,109.26 L129.25,109.67 L129.56,110.09 L129.86,110.50 L130.16,110.91 L130.47,111.32 L130.78,111.72 L131.09,112.12 L131.40,112.52 L131.71,112.92 L132.02,113.31 L132.34,113.70 L132.66,114.09 L132.97,114.47 L133.29,114.85 L133.62,115.23 L133.94,115.61 L134.26,115.98 L134.59,116.35 L134.92,116.72 L135.25,117.08 L135.58,117.44 L135.91,117.80 L136.24,118.16 L136.58,118.51 L136.92,118.86 L137.25,119.21 L137.59,119.56 L137.93,119.90 L138.28,120.24 L138.62,120.58 L138.97,120.91 L139.31,121.24 L139.66,121.57 L140.01,121.90 L140.37,122.22 L140.72,122.54 L141.07,122.86 L141.43,123.17 L141.79,123.48 L142.15,123.79 L142.51,124.10 L142.87,124.41 L143.23,124.71 L143.60,125.01 L143.96,125.30 L144.33,125.60 L144.70,125.89 L145.07,126.18 L145.45,126.46 L145.82,126.75 L146.20,127.03 L146.57,127.31 L146.95,127.58 L147.33,127.86 L147.71,128.13 L148.09,128.39 L148.48,128.66 L148.86,128.92 L149.25,129.19 L149.64,129.44 L150.03,129.70 L150.42,129.95 L150.81,130.20 L151.21,130.45 L151.60,130.70 L152.00,130.94 L152.40,131.19 L152.80,131.43 L153.20,131.66 L153.61,131.90 L154.01,132.13 L154.42,132.36 L154.82,132.59 L155.23,132.82 L155.64,133.04 L156.05,133.26 L156.47,133.48 L156.88,133.70 L157.30,133.91 L157.72,134.12 L158.13,134.34 L158.55,134.54 L158.98,134.75 L159.40,134.95 L159.82,135.16 L160.25,135.36 L160.68,135.56 L161.11,135.75 L161.54,135.95 L161.97,136.14 L162.40,136.33 L162.84,136.52 L163.27,136.70 L163.71,136.89 L164.15,137.07 L164.59,137.25 L165.03,137.43 L165.47,137.60 L165.92,137.78 L166.36,137.95 L166.81,138.12 L167.26,138.29 L167.71,138.46 L168.16,138.62 L168.61,138.79 L169.07,138.95 L169.52,139.11 L169.98,139.27 L170.44,139.43 L170.90,139.58 L171.36,139.73 L171.82,139.89 L172.29,140.04 L172.75,140.18 L173.22,140.33 L173.69,140.48 L174.16,140.62 L174.63,140.76 L175.10,140.90 L175.57,141.04 L176.05,141.18 L176.52,141.31 L177.00,141.45 L177.48,141.58 L177.96,141.71 L178.44,141.84 L178.93,141.97 L179.41,142.09 L179.90,142.22 L180.39,142.34 L180.87,142.47 L181.37,142.59 L181.86,142.71 L182.35,142.82 L182.84,142.94 L183.34,143.06 L183.84,143.17 L184.34,143.28 L184.84,143.39 L185.34,143.50 L185.84,143.61 L186.34,143.72 L186.85,143.83 L187.36,143.93 L187.86,144.03 L188.37,144.14 L188.88,144.24 L189.40,144.34 L189.91,144.44 L190.42,144.53 L190.94,144.63 L191.46,144.73 L191.98,144.82 L192.50,144.91 L193.02,145.00 L193.54,145.09 L194.07,145.18 L194.59,145.27 L195.12,145.36 L195.65,145.45 L196.18,145.53 L196.71,145.61 L197.24,145.70 L197.77,145.78 L198.31,145.86 L198.85,145.94 L199.38,146.02 L199.92,146.10 L200.46,146.17 L201.01,146.25 L201.55,146.32 L202.09,146.40 L202.64,146.47 L203.19,146.54 L203.73,146.61 L204.28,146.68 L204.84,146.75 L205.39,146.82 L205.94,146.89 L206.50,146.95 L207.05,147.02 L207.61,147.08 L208.17,147.15 L208.73,147.21 L209.29,147.27 L209.86,147.33 L210.42,147.39 L210.99,147.45 L211.55,147.51 L212.12,147.57 L212.69,147.63 L213.26,147.68 L213.84,147.74 L214.41,147.79 L214.98,147.85 L215.56,147.90 L216.14,147.95 L216.72,148.00 L217.30,148.06 L217.88,148.11 L218.46,148.15 L219.05,148.20 L219.63,148.25 L220.22,148.30 L220.81,148.35 L221.40,148.39 L221.99,148.44 L222.58,148.48 L223.17,148.53 L223.77,148.57 L224.36,148.61 L224.96,148.65 L225.56,148.69 L226.16,148.74 L226.76,148.78 L227.36,148.81 L227.97,148.85 L228.57,148.89 L229.18,148.93 L229.79,148.97 L230.40,149.00 L231.01,149.04 L231.62,149.07 L232.23,149.11 L232.85,149.14 L233.46,149.18 L234.08,149.21 L234.70,149.24 L235.32,149.27 L235.94,149.31 L236.56,149.34 L237.18,149.37 L237.81,149.40 L238.43,149.43 L239.06,149.46 L239.69,149.48 L240.32,149.51 L240.95,149.54 L241.58,149.57 L242.22,149.59 L242.85,149.62 L243.49,149.64 L244.13,149.67 L244.77,149.69 L245.41,149.72 L246.05,149.74 L246.69,149.76 L247.33,149.79 L247.98,149.81 L248.63,149.83 L249.27,149.85 L249.92,149.87 L250.57,149.89 L251.23,149.91 L251.88,149.93 L252.53,149.95 L253.19,149.97 L253.84,149.99 L254.50,150.01 L255.16,150.03 L255.82,150.04 L256.48,150.06 L257.15,150.08 L257.81,150.09 L258.48,150.11 L259.15,150.13 L259.81,150.14 L260.48,150.16 L261.15,150.17 L261.83,150.18 L262.50,150.20 L263.17,150.21 L263.85,150.23 L264.53,150.24 L265.21,150.25 L265.89,150.26 L266.57,150.27 L267.25,150.29 L267.93,150.30 L268.62,150.31 L269.30,150.32 L269.99,150.33 L270.68,150.34 L271.37,150.35 L272.06,150.36 L272.75,150.37 L273.45,150.38 L274.14,150.38 L274.84,150.39 L275.53,150.40 L276.23,150.41 L276.93,150.42 L277.63,150.42 L278.34,150.43 L279.04,150.44 L279.75,150.44 L280.45,150.45 L281.16,150.46 L281.87,150.46 L282.58,150.47 L283.29,150.47 L284.00,150.48 L284.71,150.48 L285.43,150.49 L286.15,150.49 L286.86,150.49 L287.58,150.50 L288.30,150.50 L289.02,150.51 L289.75,150.51 L290.47,150.51 L291.19,150.51 L291.92,150.52 L292.65,150.52 L293.38,150.52 L294.11,150.52 L294.84,150.52 L295.57,150.53 L296.30,150.53 L297.04,150.53 L297.77,150.53 L298.51,150.53 L299.25,150.53 L299.99,150.53 L300.73,150.53 L301.47,150.53 L302.22,150.53 L302.96,150.53 L303.71,150.53 L304.46,150.53 L305.20,150.53 L305.95,150.53 L306.71,150.53 L307.46,150.52 L308.21,150.52 L308.97,150.52 L309.72,150.52 L310.48,150.52 L311.24,150.51 L312.00,150.51 L312.76,150.51 L313.52,150.51 L314.28,150.50 L315.05,150.50 L315.81,150.50 L316.58,150.49" fill="none" stroke="#929292" stroke-width="2.6" stroke-dasharray="3 1.3 3.5 1.3" clip-path="url(#cp)" shape-rendering="crispEdges"/>
<line x1="301.0" y1="43" x2="301.0" y2="203" stroke="#929292" stroke-width="2" stroke-dasharray="3.5 1.5 2.5 1.5" shape-rendering="crispEdges"/>
<text x="77.12" y="217" text-anchor="middle">20</text>
<text x="113.96" y="217" text-anchor="middle">40</text>
<text x="150.80" y="217" text-anchor="middle">60</text>
<text x="187.64" y="217" text-anchor="middle">80</text>
<text x="224.48" y="217" text-anchor="middle">100</text>
<text x="261.32" y="217" text-anchor="middle">120</text>
<text x="298.16" y="217" text-anchor="middle">140</text>
<text x="56.4" y="49.20" text-anchor="end">0.03</text>
<text x="56.4" y="81.04" text-anchor="end">0.02</text>
<text x="56.4" y="112.88" text-anchor="end">0.01</text>
<text x="56.4" y="144.72" text-anchor="end">0.00</text>
<text x="56.4" y="176.56" text-anchor="end">−0.01</text>
<text x="56.4" y="208.40" text-anchor="end">−0.02</text>
<line x1="239" y1="68" x2="268" y2="68" stroke="#ff0000" stroke-width="2"  shape-rendering="crispEdges"/>
<line x1="240" y1="83" x2="266" y2="83" stroke="#0000ff" stroke-width="2" stroke-dasharray="4 1.5" shape-rendering="crispEdges"/>
<line x1="240" y1="98" x2="266" y2="98" stroke="#ff8000" stroke-width="2" stroke-dasharray="2.2 1.05" shape-rendering="crispEdges"/>
<line x1="240" y1="113" x2="266" y2="113" stroke="#929292" stroke-width="2" stroke-dasharray="2 1 4 2" shape-rendering="crispEdges"/>
<text x="0" y="0" transform="translate(12.6,132.8) rotate(-90)">V<tspan style="font-size:10.5px" dx="-1.3" dy="3.2" font-style="italic">eff</tspan></text>
<text x="188" y="237.5" text-anchor="middle">r/M</text>
</svg>
</body></html>
